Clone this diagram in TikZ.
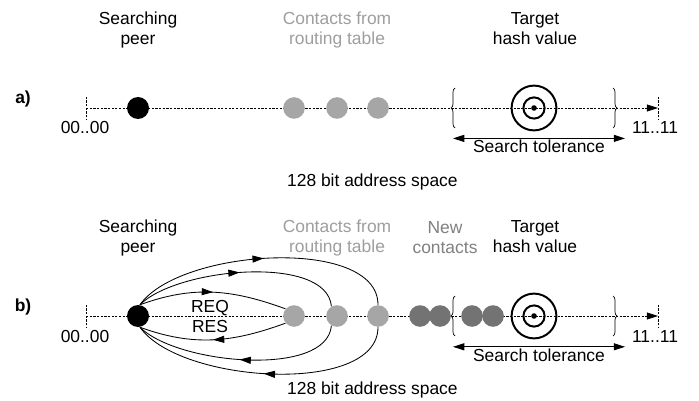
\documentclass[tikz,border=0pt]{standalone}
\usepackage{fontspec}
\setmainfont{Liberation Sans}
\usetikzlibrary{arrows.meta,decorations.pathreplacing,decorations.markings}

\begin{document}
\begin{tikzpicture}[font=\fontsize{12.4}{14.2}\selectfont,
  >={Triangle[length=8pt,width=5pt]}, line width=0.6pt,
  me/.style={circle, fill=black, minimum size=5.5mm, inner sep=0pt},
  known/.style={circle, fill=black!35, minimum size=5.4mm, inner sep=0pt},
  fresh/.style={circle, fill=black!55, minimum size=5.4mm, inner sep=0pt},
  ring/.style={circle, draw, line width=1.4pt, inner sep=0pt},
  axis/.style={dash pattern=on 1.6pt off 1pt, line width=0.5pt},
  tick/.style={axis},
  curly/.style={decorate, decoration={brace, amplitude=1mm}, line width=0.5pt},
  msg/.style={postaction={decorate},
              decoration={markings, mark=at position 0.5 with {\arrow{>}}}},
  lbl/.style={align=center},
  grey/.style={lbl, text=black!38}]

\useasboundingbox (0,0) rectangle (17.475,-10.025);

% a) plain lookup: where the peer, its contacts and the target sit
\coordinate (a0) at (2.15,-2.7);
\coordinate (a1) at (16.45,-2.7);
\draw[tick] ([yshift=2.8mm]a0) -- ([yshift=-2.8mm]a0);
\draw[tick] ([yshift=2.8mm]a1) -- ([yshift=-2.8mm]a1);
\draw[axis, ->] (a0) -- (a1);

\node[me]    (pa)  at (3.45,-2.7)   {};
\node[known] (ka1) at (7.35,-2.7)   {};
\node[known] (ka2) at (8.425,-2.7)  {};
\node[known] (ka3) at (9.45,-2.7)   {};
\node[ring, minimum size=11.2mm] (ta) at (13.35,-2.7) {};
\node[ring, minimum size=5.3mm] at (ta) {};
\fill (ta) circle (0.07);

\coordinate (tla) at (11.375,-2.7);
\coordinate (tra) at (15.325,-2.7);
\draw[curly] ([yshift=-5mm]tla) -- ([yshift=5mm]tla);
\draw[curly] ([yshift=5mm]tra) -- ([yshift=-5mm]tra);
\draw[<->] ([xshift=-0.5mm, yshift=-7.6mm]tla) -- node[below, inner sep=1pt]{Search tolerance}
           ([xshift=3mm, yshift=-7.6mm]tra);

\node[font=\fontsize{12.4}{14.2}\selectfont\bfseries] (la) at (0.575,-2.48) {a)};
\node (sa) at (2.125,-3.2)  {00..00};
\node (ea) at (16.375,-3.2) {11..11};
\node[lbl]  (peera) at (3.45,-0.75)   {Searching\\peer};
\node[grey] (conta) at (8.425,-0.75)  {Contacts from\\routing table};
\node[lbl]  (hasha) at (13.375,-0.72) {Target\\hash value};
\node (spa) at (9.31,-4.55) {128 bit address space};

% b) the peer asks its contacts, and the answers bring new contacts closer in
\coordinate (b0) at (2.15,-7.9);
\coordinate (b1) at (16.45,-7.9);
\draw[tick] ([yshift=2.8mm]b0) -- ([yshift=-2.8mm]b0);
\draw[tick] ([yshift=2.8mm]b1) -- ([yshift=-2.8mm]b1);
\draw[axis, ->] (b0) -- (b1);

\node[me]    (pb)  at (3.45,-7.9)   {};
\node[known] (kb1) at (7.35,-7.9)   {};
\node[known] (kb2) at (8.425,-7.9)  {};
\node[known] (kb3) at (9.45,-7.9)   {};
\node[fresh] (nb1) at (10.5,-7.9)   {};
\node[fresh] (nb2) at (11.0,-7.9)   {};
\node[fresh] (nb3) at (11.8,-7.9)   {};
\node[fresh] (nb4) at (12.325,-7.9) {};
\node[ring, minimum size=11.2mm] (tb) at (13.35,-7.9) {};
\node[ring, minimum size=5.3mm] at (tb) {};
\fill (tb) circle (0.07);

\coordinate (tlb) at (11.375,-7.9);
\coordinate (trb) at (15.325,-7.9);
\draw[curly] ([yshift=-5mm]tlb) -- ([yshift=5mm]tlb);
\draw[curly] ([yshift=5mm]trb) -- ([yshift=-5mm]trb);
\draw[<->] ([xshift=-0.5mm, yshift=-7.7mm]tlb) -- node[below, inner sep=1pt]{Search tolerance}
           ([xshift=3mm, yshift=-7.7mm]trb);

% requests out over the top, responses back underneath
\draw[msg] (pb.80) to[out=20, in=160] (kb1.140);
\draw[msg] (pb.80) to[out=45, in=95, looseness=0.7] (kb2.120);
\draw[msg] (pb.80) to[out=55, in=90, looseness=0.74] (kb3.north);
\draw[msg] (kb1.-140) to[out=-160, in=-20] (pb.-80);
\draw[msg] (kb2.-120) to[out=-95, in=-45, looseness=0.7] (pb.-80);
\draw[msg] (kb3.south) to[out=-90, in=-55, looseness=0.74] (pb.-80);
\node (req) at (5.25,-7.7)  {REQ};
\node (res) at (5.25,-8.15) {RES};

\node[font=\fontsize{12.4}{14.2}\selectfont\bfseries] (lb) at (0.575,-7.68) {b)};
\node (sb) at (2.125,-8.42)  {00..00};
\node (eb) at (16.375,-8.42) {11..11};
\node[lbl]  (peerb) at (3.45,-5.95)   {Searching\\peer};
\node[grey] (contb) at (8.425,-5.95)  {Contacts from\\routing table};
\node[lbl, text=black!50] (newb) at (11.125,-5.95) {New\\contacts};
\node[lbl]  (hashb) at (13.375,-5.92) {Target\\hash value};
\node (spb) at (9.31,-9.75) {128 bit address space};
\end{tikzpicture}
\end{document}
